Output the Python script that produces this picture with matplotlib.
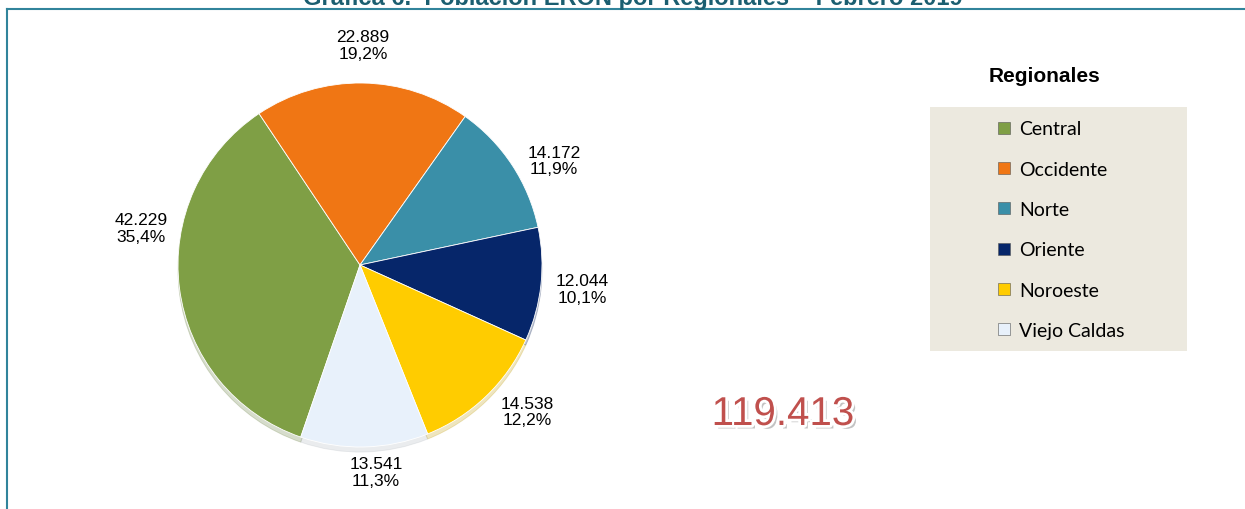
import matplotlib
matplotlib.use('Agg')
import matplotlib.pyplot as plt
import matplotlib.patheffects as pe
from matplotlib.patches import Rectangle
from matplotlib.lines import Line2D
import numpy as np

# ------------------------------------------------------------------ #
#                         data                                        #
# ------------------------------------------------------------------ #

regionales = ['Central', 'Occidente', 'Norte', 'Oriente', 'Noroeste', 'Viejo Caldas']
poblacion = [42229, 22889, 14172, 12044, 14538, 13541]
colores = ['#7F9F45', '#F07614', '#3A8FA8', '#06266A', '#FFCC00', '#E8F1FB']

titulo = 'Gráfica 6.  Población ERON por Regionales – Febrero 2019'


def miles(v):
    return '{:,}'.format(int(v)).replace(',', '.')


total = sum(poblacion)

plt.rcParams['font.family'] = ['Liberation Sans', 'DejaVu Sans']

fig = plt.figure(figsize=(12.45, 5.10), dpi=100)
W, H = 1245.0, 510.0

# frame lines (top teal line and left border)
fig.add_artist(Line2D([7 / W, 1.0], [1 - 10 / H, 1 - 10 / H], color='#31849B', lw=1.5))
fig.add_artist(Line2D([7 / W, 7 / W], [0, 1 - 10 / H], color='#31849B', lw=1.5))

# title, cut off at the top like in the report
fig.text(633 / W, 1 - 5 / H, titulo, ha='center', va='baseline', fontsize=17,
         fontweight='bold', color='#1B5E70')

# ------------------------------------------------------------------ #
#                         pie                                         #
# ------------------------------------------------------------------ #

cx, cy, r = 360, 266, 182
ax = fig.add_axes([(cx - r) / W, (H - cy - r) / H, 2 * r / W, 2 * r / H])

wedges, _ = ax.pie(poblacion, colors=colores, startangle=251, counterclock=False,
                   radius=1.0, center=(0, 0),
                   wedgeprops=dict(edgecolor='#FFFFFF', linewidth=0.6),
                   shadow=dict(ox=0.0, oy=-0.02, shade=0.25, alpha=0.25))
ax.set_xlim(-1, 1)
ax.set_ylim(-1, 1)
ax.axis('off')

# data labels outside the pie (Excel "best fit" look)
fracs = np.array(poblacion) / total
desplaz = [-17, 0, -5, 0, 5, 3]               # angular nudges (deg)
distancia = [1.22, 1.21, 1.21, 1.23, 1.22, 1.14]
for w, val, fr, d, dist in zip(wedges, poblacion, fracs, desplaz, distancia):
    ang = np.deg2rad((w.theta1 + w.theta2) / 2.0 + d)
    ax.text(dist * np.cos(ang), dist * np.sin(ang),
            miles(val) + '\n' + ('%.1f%%' % (fr * 100)).replace('.', ','),
            ha='center', va='center', fontsize=12.5, color='#000000',
            linespacing=1.15, clip_on=False)

# ------------------------------------------------------------------ #
#                         legend                                      #
# ------------------------------------------------------------------ #

fig.text(1045 / W, 1 - 76 / H, 'Regionales', ha='center', va='center',
         fontsize=15, fontweight='bold', color='#000000')

fig.add_artist(Rectangle((930 / W, (H - 352) / H), 257 / W, 244 / H,
                         transform=fig.transFigure, facecolor='#ECE9DF',
                         edgecolor='none', zorder=0))

handles = [Line2D([], [], marker='s', linestyle='None', markersize=8.5,
                  markerfacecolor=c, markeredgecolor='#555555', markeredgewidth=0.4)
           for c in colores]
leg = fig.legend(handles, regionales, loc='upper left',
                 bbox_to_anchor=(979 / W, 1 - 104 / H), frameon=False,
                 handlelength=0.75, handletextpad=0.4, labelspacing=1.2,
                 prop={'family': ['Lato', 'DejaVu Sans'], 'size': 14})

# ------------------------------------------------------------------ #
#                         total                                       #
# ------------------------------------------------------------------ #

fig.text(783 / W, 1 - 415 / H, miles(total), ha='center', va='center',
         fontsize=29, color='#C0504D',
         path_effects=[pe.withSimplePatchShadow(offset=(2.5, -2.5), shadow_rgbFace='#888888', alpha=0.5),
                       pe.Stroke(linewidth=4, foreground='white'),
                       pe.Normal()])

plt.savefig('out.png', dpi=100)
plt.close()
